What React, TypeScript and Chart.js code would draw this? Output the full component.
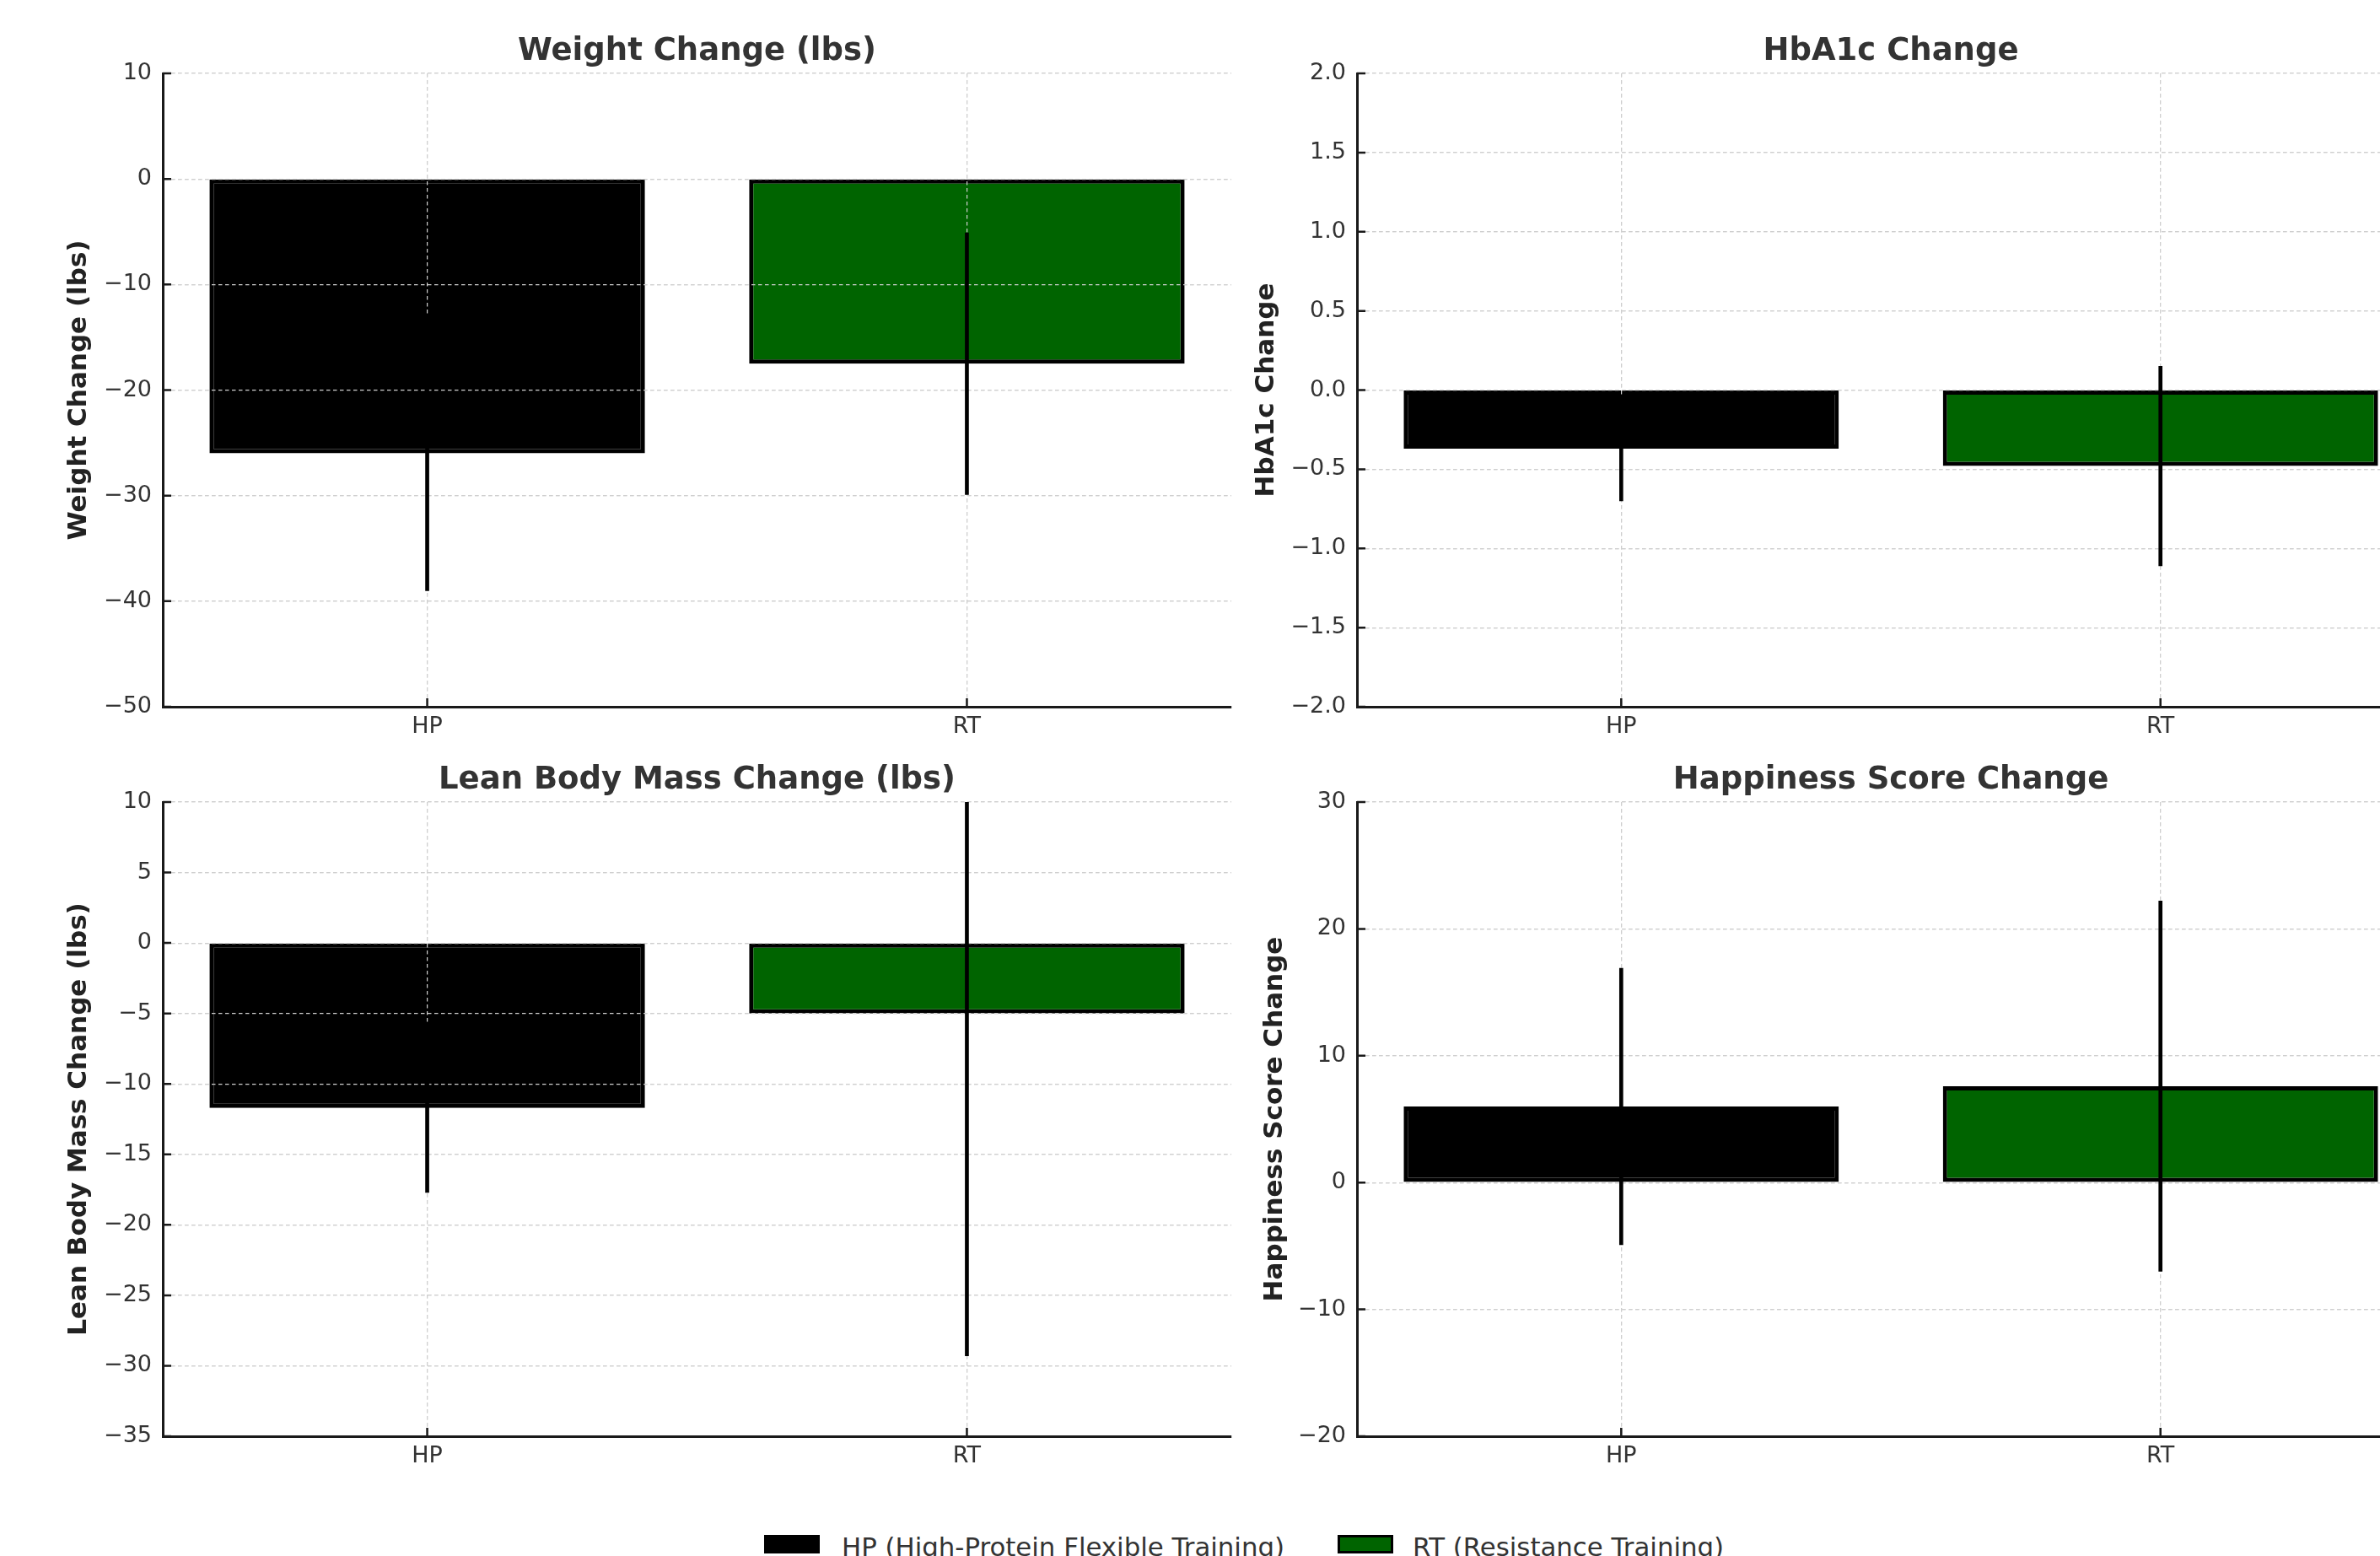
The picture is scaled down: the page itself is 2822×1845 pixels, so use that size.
import React, { useEffect, useRef } from "react";
import { Chart, registerables } from "chart.js";

Chart.register(...registerables);

const FONT = "'DejaVu Sans', 'Liberation Sans', sans-serif";

// ---------------- data ----------------
const groups = ["HP", "RT"];
const groupColors = ["#000000", "#006400"];
const legendLabels = ["HP (High-Protein Flexible Training)", "RT (Resistance Training)"];

const weightMean = [-26.0, -17.5];
const weightErr = [13.0, 12.4];
const hba1cMean = [-0.37, -0.48];
const hba1cErr = [0.33, 0.63];
const leanMean = [-11.7, -5.0];
const leanErr = [6.0, 24.3];
const happyMean = [6.0, 7.6];
const happyErr = [10.9, 14.6];

const panelTitles = ["Weight Change (lbs)", "HbA1c Change", "Lean Body Mass Change (lbs)", "Happiness Score Change"];
const panelYLabels = ["Weight Change (lbs)", "HbA1c Change", "Lean Body Mass Change (lbs)", "Happiness Score Change"];
const panelMeans = [weightMean, hba1cMean, leanMean, happyMean];
const panelErrs = [weightErr, hba1cErr, leanErr, happyErr];
const yMins = [-50, -2, -35, -20];
const yMaxs = [10, 2, 10, 30];
const ySteps = [10, 0.5, 5, 10];
const yDecimals = [0, 1, 0, 0];

// ---------------- layout / style ----------------
const LAYOUT = [
  { left: 0, top: 0, w: 1500, h: 900, yW: 193, padR: 40, padB: 2, titlePadTop: 38.8, yTitlePad: 75.4 },
  { left: 1400, top: 0, w: 1550, h: 900, yW: 209, padR: 75, padB: 2, titlePadTop: 38.8, yTitlePad: 83.4 },
  { left: 0, top: 900, w: 1500, h: 880, yW: 193, padR: 40, padB: 17, titlePadTop: 2.8, yTitlePad: 75.4 },
  { left: 1400, top: 900, w: 1550, h: 880, yW: 209, padR: 75, padB: 17, titlePadTop: 2.8, yTitlePad: 93.4 },
];

const TEXT = "#333333";
const AXIS = "#1a1a1a";
const GRID = "#cfcfcf";
const GRID_DASH = [4.5, 3.5];

const fmt = (v: number, d: number) => {
  const s = Math.abs(v) < 1e-9 ? (0).toFixed(d) : v.toFixed(d);
  return s.replace("-", "\u2212");
};

const gridOverBars = {
  id: "gridOverBars",
  afterDatasetDraw(chart: any, args: any) {
    if (args.index !== 0) return;
    const ca = chart.chartArea;
    chart.scales.y.drawGrid(ca);
    chart.scales.x.drawGrid(ca);
  },
};

const inwardTicks = {
  id: "inwardTicks",
  afterDraw(chart: any) {
    const { ctx, chartArea: ca, scales } = chart;
    const x = scales.x;
    const y = scales.y;
    ctx.save();
    ctx.strokeStyle = AXIS;
    ctx.lineWidth = 2.5;
    ctx.beginPath();
    y.ticks.forEach((t: any) => {
      const py = y.getPixelForValue(t.value);
      ctx.moveTo(ca.left, py);
      ctx.lineTo(ca.left + 10, py);
    });
    x.ticks.forEach((t: any) => {
      const px = x.getPixelForValue(t.value);
      ctx.moveTo(px, ca.bottom);
      ctx.lineTo(px, ca.bottom - 10);
    });
    ctx.stroke();
    ctx.restore();
  },
};

function Panel({ idx }: { idx: number }) {
  const ref = useRef<HTMLCanvasElement>(null);
  const L = LAYOUT[idx];
  useEffect(() => {
    if (!ref.current) return;
    Chart.defaults.font.family = FONT;
    const mean = panelMeans[idx];
    const err = panelErrs[idx];
    const yMin = yMins[idx];
    const dec = yDecimals[idx];
    const chart = new Chart(ref.current, {
      type: "bar",
      data: {
        datasets: [
          {
            label: "mean",
            data: mean.map((m, i) => ({ x: i, y: m })),
            backgroundColor: groupColors,
            borderColor: "#000000",
            borderWidth: 5,
            borderSkipped: false,
            grouped: false,
            barPercentage: 0.807,
            categoryPercentage: 1,
            order: 2,
          } as any,
          {
            label: "error",
            data: mean.map((m, i) => ({ x: i, y: [m - err[i], m + err[i]] })),
            backgroundColor: "#000000",
            borderWidth: 0,
            barThickness: 4,
            grouped: false,
            order: 1,
            clip: 0,
          } as any,
        ],
      },
      options: {
        animation: false,
        responsive: false,
        devicePixelRatio: 1,
        events: [],
        layout: { padding: { left: 0, top: 0, right: L.padR, bottom: L.padB } },
        plugins: {
          legend: { display: false },
          tooltip: { enabled: false },
          title: {
            display: true,
            text: panelTitles[idx],
            fullSize: false,
            color: TEXT,
            font: { size: 37, weight: "bold", family: FONT, lineHeight: 1.2 },
            padding: { top: L.titlePadTop, bottom: 3.8 },
          },
        },
        scales: {
          x: {
            type: "linear",
            min: -0.49,
            max: 1.49,
            offset: false,
            afterBuildTicks: (s: any) => {
              s.ticks = groups.map((_, i) => ({ value: i }));
            },
            afterFit: (s: any) => {
              s.height = 60;
            },
            ticks: {
              callback: (v: any) => groups[v] ?? "",
              padding: 8,
              color: TEXT,
              font: { size: 27, family: FONT },
              maxRotation: 0,
              autoSkip: false,
            },
            grid: { color: GRID, lineWidth: 1.2, drawTicks: false, offset: false },
            border: { display: true, color: AXIS, width: 3, dash: GRID_DASH },
          },
          y: {
            type: "linear",
            min: yMin,
            max: yMaxs[idx],
            afterFit: (s: any) => {
              s.width = L.yW;
            },
            ticks: {
              stepSize: ySteps[idx],
              padding: 13,
              color: TEXT,
              font: { size: 27, family: FONT },
              callback: (v: any) => fmt(Number(v), dec),
            },
            grid: {
              color: (c: any) => (c.tick && Math.abs(c.tick.value - yMin) < 1e-9 ? "rgba(0,0,0,0)" : GRID),
              lineWidth: 1.2,
              drawTicks: false,
            },
            border: { display: true, color: AXIS, width: 3, dash: GRID_DASH },
            title: {
              display: true,
              text: panelYLabels[idx],
              color: "#222222",
              font: { size: 31, weight: "bold", family: FONT, lineHeight: 1.2 },
              padding: { top: L.yTitlePad, bottom: 0 },
            },
          },
        },
      } as any,
      plugins: [gridOverBars, inwardTicks],
    });
    return () => chart.destroy();
  }, [idx]);
  return (
    <canvas
      ref={ref}
      width={L.w}
      height={L.h}
      style={{ position: "absolute", left: L.left, top: L.top, width: L.w, height: L.h }}
    />
  );
}

export default function App() {
  const legendFont = { fontFamily: FONT, fontSize: "30.8px", lineHeight: "30.8px", color: TEXT, whiteSpace: "nowrap" as const };
  return (
    <div
      style={{
        position: "absolute",
        left: 0,
        top: 0,
        width: 2822,
        height: 1845,
        overflow: "hidden",
        background: "#ffffff",
      }}
    >
      {LAYOUT.map((_, i) => (
        <Panel key={i} idx={i} />
      ))}
      <div
        style={{
          position: "absolute",
          left: 906,
          top: 1820,
          width: 66,
          height: 22,
          background: groupColors[0],
          border: "2px solid #000",
          boxSizing: "border-box",
        }}
      />
      <div style={{ position: "absolute", left: 998, top: 1819, ...legendFont }}>{legendLabels[0]}</div>
      <div
        style={{
          position: "absolute",
          left: 1586,
          top: 1820,
          width: 66,
          height: 22,
          background: groupColors[1],
          border: "3px solid #000",
          boxSizing: "border-box",
        }}
      />
      <div style={{ position: "absolute", left: 1675, top: 1819, ...legendFont }}>{legendLabels[1]}</div>
    </div>
  );
}
